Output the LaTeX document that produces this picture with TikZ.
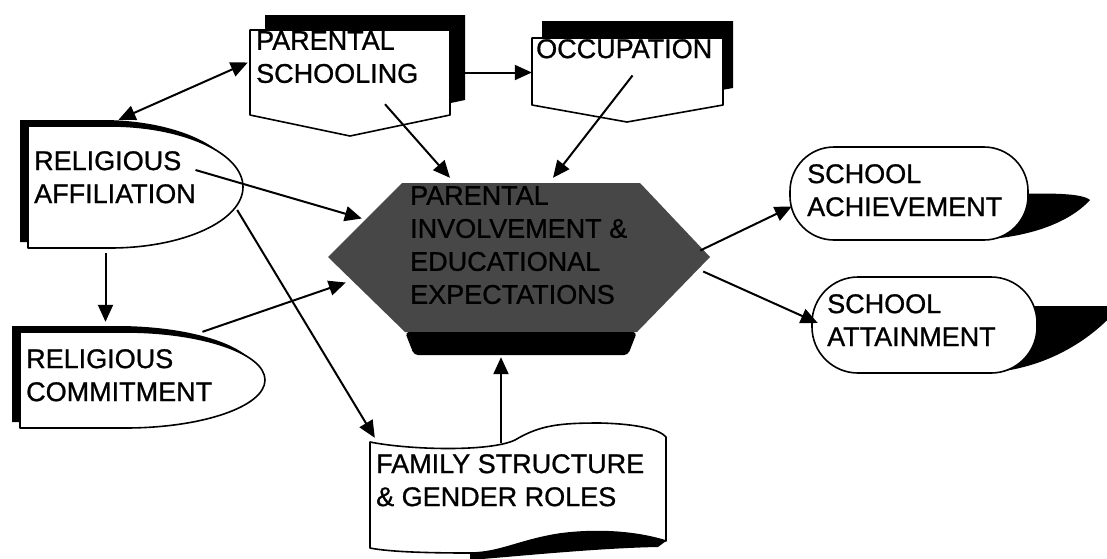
\documentclass[tikz,border=0pt]{standalone}
\usepackage{fontspec}
\setmainfont{Liberation Sans}
\newfontfamily\scanfont{Liberation Sans}[FakeBold=0.9]
\usetikzlibrary{arrows.meta,calc}
\tikzset{
	>={Triangle[length=17pt,width=15pt]}, % filled arrow heads
	box/.style={draw, line width=1.6pt, fill=white, line join=round},
	shade/.style={fill=black},
	frame/.style 2 args={inner sep=0pt, minimum width=#1, minimum height=#2},
	lbl/.style={anchor=north west, inner sep=0pt, align=left, font=\scanfont\fontsize{27}{33}\selectfont},
	arr/.style={->, line width=2pt},
}

\begin{document}
\begin{tikzpicture}[x=1pt,y=-1pt]
  \useasboundingbox (0,0) rectangle (1107,558);
  \clip (0,0) rectangle (1107,558);

  % frames used by the connectors
  \node[frame={200pt}{85pt}]  (ps)  at (350,72.5)  {};
  \node[frame={191pt}{67pt}]  (occ) at (627.5,71.5) {};
  \node[frame={215pt}{122pt}] (ra)  at (135.5,187) {};
  \node[frame={245pt}{96pt}]  (rc)  at (142.5,380) {};
  \node[frame={382pt}{149pt}] (hex) at (519,257.5) {};
  \node[frame={238pt}{93pt}]  (ach) at (909,193.5) {};
  \node[frame={225pt}{96pt}]  (att) at (924.5,325) {};
  \node[frame={296pt}{130pt}] (fam) at (518,488)   {};

  % schooling and occupation
  \fill[shade] (265,15) -- (465,15) -- (465,100) -- (365,121) -- (265,100) -- cycle;
  \draw[box] (250,30) -- (450,30) -- (450,115) -- (350,136) -- (250,115) -- cycle;
  \fill[shade] (542,21) -- (733,21) -- (733,88) -- (637,105) -- (542,88) -- cycle;
  \draw[box] (532,38) -- (723,38) -- (723,105) -- (627,122) -- (532,105) -- cycle;

  % religious shapes
  \fill[shade] (20,120) -- (102,120) arc[start angle=90, end angle=-90, x radius=133pt, y radius=61pt] -- (20,242) -- cycle;
  \draw[box] (28,126) -- (110,126) arc[start angle=90, end angle=-90, x radius=133pt, y radius=61pt] -- (28,248) -- cycle;
  \fill[shade] (12,326) -- (117,326) arc[start angle=90, end angle=-90, x radius=140pt, y radius=48pt] -- (12,422) -- cycle;
  \draw[box] (20,332) -- (125,332) arc[start angle=90, end angle=-90, x radius=140pt, y radius=48pt] -- (20,428) -- cycle;

  % central hexagon
  \fill[black!72] (402,183) -- (640,183) -- (710,257) -- (637,332) -- (405,332) -- (328,257) -- cycle;
  \fill[shade, rounded corners=4pt] (405,332) -- (637,332) -- (628,355) -- (414,355) -- cycle;

  % school outcomes
  \fill[shade] (975,240) .. controls (1030,238) and (1070,222) .. (1090,200) .. controls (1082,193) and (1050,193) .. (1010,194) -- cycle;
  \draw[box, rounded corners=44pt] (790,147) rectangle (1028,240);
  \fill[shade] (985,373) .. controls (1040,370) and (1085,345) .. (1115,312) -- (1115,306) -- (1020,306) -- cycle;
  \draw[box, rounded corners=46pt] (812,277) rectangle (1037,373);

  % family document
  \fill[shade] (666,541) .. controls (630,530) and (590,530) .. (560,534) .. controls (520,540) and (500,553) .. (470,553) -- (470,560) .. controls (520,556) and (600,548) .. (658,547) -- cycle;
  \draw[box] (370,442) .. controls (410,450) and (490,452) .. (515,440) .. controls (540,425) and (560,423) .. (600,423) .. controls (640,424) and (660,430) .. (666,437)
    -- (666,541) .. controls (630,530) and (590,530) .. (560,534) .. controls (520,540) and (500,553) .. (470,553) .. controls (430,553) and (390,552) .. (370,548) -- cycle;

  % texts
  \node[lbl] (pst)  at (256,31)  {PARENTAL\\SCHOOLING};
  \node[lbl] (occt) at (536,39)  {OCCUPATION};
  \node[lbl] (rat)  at (34,151)  {RELIGIOUS\\AFFILIATION};
  \node[lbl] (rct)  at (26,349)  {RELIGIOUS\\COMMITMENT};
  \node[lbl] (hext) at (410,186) {PARENTAL\\INVOLVEMENT \&\\EDUCATIONAL\\EXPECTATIONS};
  \node[lbl] (acht) at (807,164) {SCHOOL\\ACHIEVEMENT};
  \node[lbl] (attt) at (827,294) {SCHOOL\\ATTAINMENT};
  \node[lbl] (famt) at (376,454) {FAMILY STRUCTURE\\\& GENDER ROLES};

  % connectors
  \draw[arr] (ps.east) -- (ps.east -| occ.west);
  \draw[arr,<->] ($(ra.north)+(-17,-6)$) -- ($(ps.west)+(-2,-10)$);
  \draw[arr] ($(ra.center)+(60,-17)$) -- ($(hex.west)+(34,-39)$);
  \draw[arr] ($(ra.east)+(-6,23)$) -- ($(fam.north west)+(5,15)$);
  \draw[arr] ($(ra.south)+(-30,5)$) -- ($(rc.north)+(-37,-10)$);
  \draw[arr] ($(rc.north)+(60,0)$) -- ($(hex.west)+(18,25)$);
  \draw[arr] ($(ps.south)+(35,-11)$) -- ($(hex.north)+(-69,-5)$);
  \draw[arr] ($(occ.center)+(5,4)$) -- ($(hex.north)+(34,-5)$);
  \draw[arr] ($(hex.east)+(-10,-7)$) -- ($(ach.west)+(2,13)$);
  \draw[arr] ($(hex.east)+(-7,14)$) -- ($(att.west)+(6,-2)$);
  \draw[arr] ($(fam.north)+(-17,20)$) -- ($(hex.south)+(-18,25)$);
\end{tikzpicture}
\end{document}
